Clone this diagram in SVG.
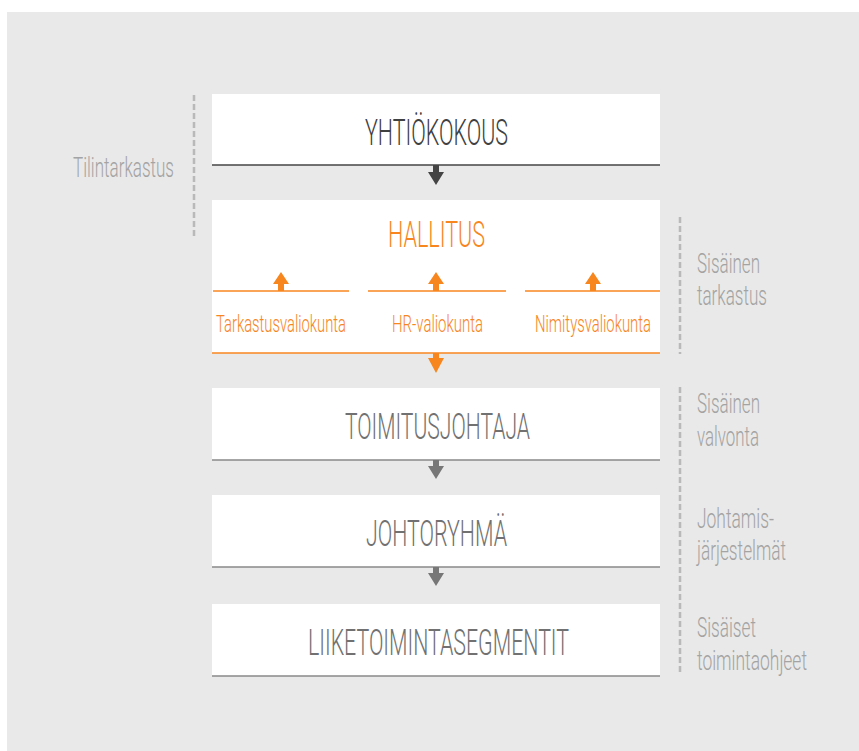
<svg xmlns="http://www.w3.org/2000/svg" width="859" height="751" viewBox="0 0 859 751">
<defs>
<style>
.box{fill:#ffffff}
.t{font-family:Roboto,"Liberation Sans",sans-serif;font-weight:300;text-anchor:start}
.main{font-size:36px}
.sub{font-size:24px;fill:#f7861e}
.side{font-size:27px;fill:#a3a3a3}
.dash{stroke:#b9b9b9;stroke-width:2.5;stroke-dasharray:6 3;fill:none}
</style>
</defs>
<rect x="0" y="0" width="859" height="751" fill="#ffffff"/>
<rect x="7" y="12" width="852" height="739" fill="#e9e9e9"/>

<g id="side-labels">
<path class="dash" d="M194 95V236"/>
<path class="dash" d="M680 217V354"/>
<path class="dash" d="M680 387V675"/>
<text class="t side" x="73" y="177" textLength="101" lengthAdjust="spacingAndGlyphs">Tilintarkastus</text>
<text class="t side" x="697" y="273" textLength="63" lengthAdjust="spacingAndGlyphs">Sisäinen</text>
<text class="t side" x="697" y="305" textLength="70" lengthAdjust="spacingAndGlyphs">tarkastus</text>
<text class="t side" x="697" y="413" textLength="63" lengthAdjust="spacingAndGlyphs">Sisäinen</text>
<text class="t side" x="697" y="446" textLength="62" lengthAdjust="spacingAndGlyphs">valvonta</text>
<text class="t side" x="697" y="528" textLength="77" lengthAdjust="spacingAndGlyphs">Johtamis-</text>
<text class="t side" x="697" y="560" textLength="89" lengthAdjust="spacingAndGlyphs">järjestelmät</text>
<text class="t side" x="697" y="637" textLength="59" lengthAdjust="spacingAndGlyphs">Sisäiset</text>
<text class="t side" x="697" y="670" textLength="110" lengthAdjust="spacingAndGlyphs">toimintaohjeet</text>
</g>

<g id="yhtiokokous">
<rect class="box" x="212" y="94" width="448" height="71"/>
<path d="M212 165H660" stroke="#444" stroke-width="1.5"/>
<text class="t main" x="365" y="145" fill="#404040" textLength="143" lengthAdjust="spacingAndGlyphs">YHTIÖKOKOUS</text>
</g>

<g id="hallitus">
<rect class="box" x="212" y="200" width="448" height="153"/>
<path d="M212 353H660" stroke="#f7861e" stroke-width="1.5"/>
<text class="t main" x="388" y="247" fill="#f7861e" textLength="97" lengthAdjust="spacingAndGlyphs">HALLITUS</text>
</g>

<g id="tarkastusvaliokunta">
<path d="M213 291H349" stroke="#f7861e" stroke-width="1.5"/>
<text class="t sub" x="216" y="332" textLength="130" lengthAdjust="spacingAndGlyphs">Tarkastusvaliokunta</text>
</g>
<g id="hr-valiokunta">
<path d="M368 291H506" stroke="#f7861e" stroke-width="1.5"/>
<text class="t sub" x="392" y="332" textLength="91" lengthAdjust="spacingAndGlyphs">HR-valiokunta</text>
</g>
<g id="nimitysvaliokunta">
<path d="M525 291H660" stroke="#f7861e" stroke-width="1.5"/>
<text class="t sub" x="535" y="332" textLength="116" lengthAdjust="spacingAndGlyphs">Nimitysvaliokunta</text>
</g>

<g id="toimitusjohtaja">
<rect class="box" x="212" y="388" width="448" height="72"/>
<path d="M212 460H660" stroke="#888" stroke-width="1.5"/>
<text class="t main" x="345" y="439" fill="#717171" textLength="185" lengthAdjust="spacingAndGlyphs">TOIMITUSJOHTAJA</text>
</g>

<g id="johtoryhma">
<rect class="box" x="212" y="495" width="448" height="72"/>
<path d="M212 567H660" stroke="#888" stroke-width="1.5"/>
<text class="t main" x="366" y="546" fill="#717171" textLength="141" lengthAdjust="spacingAndGlyphs">JOHTORYHMÄ</text>
</g>

<g id="liiketoimintasegmentit">
<rect class="box" x="212" y="604" width="448" height="72"/>
<path d="M212 676H660" stroke="#888" stroke-width="1.5"/>
<text class="t main" x="308" y="655" fill="#717171" textLength="261" lengthAdjust="spacingAndGlyphs">LIIKETOIMINTASEGMENTIT</text>
</g>

<g id="connectors">
<path d="M433 165H439V172H444L436 185L428 172H433Z" fill="#444"/>
<path d="M278 291H284V284H289L281 272L273 284H278Z" fill="#f7861e"/>
<path d="M433 291H439V284H444L436 272L428 284H433Z" fill="#f7861e"/>
<path d="M590 291H596V284H601L593 272L585 284H590Z" fill="#f7861e"/>
<path d="M433 353H439V358H444L436 373L428 358H433Z" fill="#f7861e"/>
<path d="M433 460H439V466H444L436 479L428 466H433Z" fill="#777"/>
<path d="M433 567H439V573H444L436 586L428 573H433Z" fill="#777"/>
</g>
</svg>
